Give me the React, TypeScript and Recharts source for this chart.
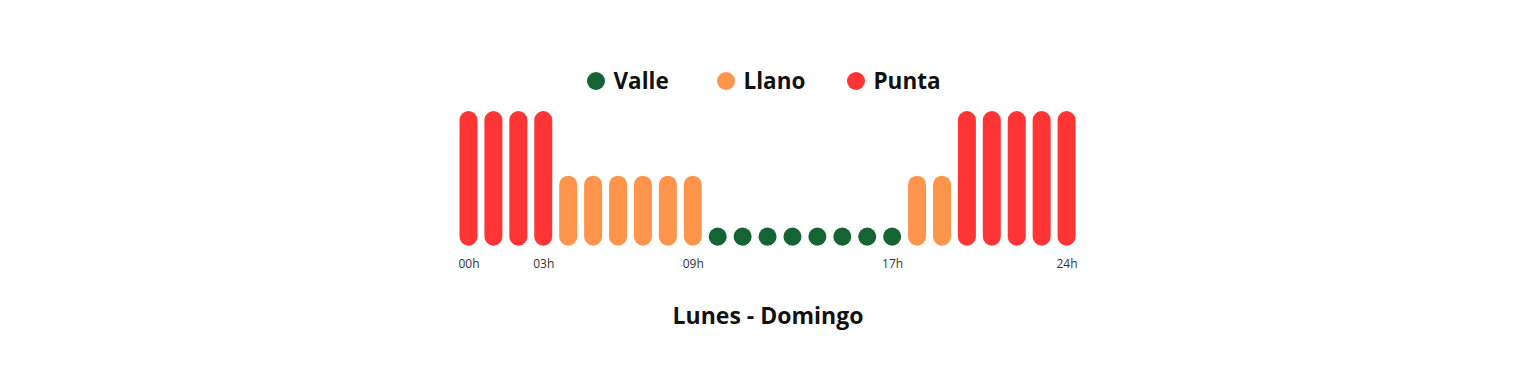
import React from 'react';
import { BarChart, Bar, XAxis, YAxis, Cell, Legend } from 'recharts';

// Tariff period per hour slot (00h..24h)
const hours = [
  '00h', '01h', '02h', '03h', '04h', '05h', '06h', '07h', '08h', '09h',
  '10h', '11h', '12h', '13h', '14h', '15h', '16h', '17h', '18h', '19h',
  '20h', '21h', '22h', '23h', '24h',
];
const periods = [
  'Punta', 'Punta', 'Punta', 'Punta',
  'Llano', 'Llano', 'Llano', 'Llano', 'Llano', 'Llano',
  'Valle', 'Valle', 'Valle', 'Valle', 'Valle', 'Valle', 'Valle', 'Valle',
  'Llano', 'Llano',
  'Punta', 'Punta', 'Punta', 'Punta', 'Punta',
];
const shownTicks = ['00h', '03h', '09h', '17h', '24h'];

const legendNames = ['Valle', 'Llano', 'Punta'];
const levelByPeriod: Record<string, number> = { Valle: 13.5, Llano: 52, Punta: 100 };
const colorByPeriod: Record<string, string> = {
  Valle: '#146434',
  Llano: '#FF954C',
  Punta: '#FF3434',
};

const data = hours.map((h, i) => ({
  hour: h,
  period: periods[i],
  level: levelByPeriod[periods[i]],
}));

const FONT = '"Open Sans", sans-serif';

const LegendContent = () => (
  <div
    style={{
      display: 'flex',
      justifyContent: 'center',
      alignItems: 'center',
      fontFamily: FONT,
      fontWeight: 700,
      fontSize: 22.5,
      color: '#111',
      paddingRight: 8,
    }}
  >
    {legendNames.map((name, i) => (
      <div
        key={name}
        style={{
          display: 'flex',
          alignItems: 'center',
          width: i < legendNames.length - 1 ? 130 : undefined,
        }}
      >
        <span
          style={{
            width: 18,
            height: 18,
            borderRadius: 9,
            background: colorByPeriod[name],
            marginRight: 8,
            display: 'inline-block',
          }}
        />
        <span style={{ lineHeight: '30px' }}>{name}</span>
      </div>
    ))}
  </div>
);

export default function App() {
  return (
    <div style={{ position: 'absolute', left: 0, top: 0, width: 1536, height: 384, background: '#fff' }}>
      <BarChart
        width={1536}
        height={384}
        data={data}
        barCategoryGap={0}
        margin={{ top: 81, right: 456.5, left: 456.5, bottom: 108.3 }}
      >
        <XAxis
          dataKey="hour"
          interval={0}
          axisLine={false}
          tickLine={false}
          height={30}
          tickMargin={8}
          tickFormatter={(v: string) => (shownTicks.includes(v) ? v : '')}
          tick={{ fill: '#333', fontSize: 12, fontFamily: FONT }}
          label={{
            value: 'Lunes - Domingo',
            position: 'bottom',
            offset: 32,
            fill: '#111',
            fontSize: 23,
            fontWeight: 700,
            fontFamily: FONT,
          }}
        />
        <YAxis hide domain={[0, 100]} />
        <Legend
          verticalAlign="top"
          content={<LegendContent />}
          wrapperStyle={{ top: 66, left: 0, width: 1536 }}
        />
        <Bar dataKey="level" barSize={18} radius={9} isAnimationActive={false}>
          {data.map((d) => (
            <Cell key={d.hour} fill={colorByPeriod[d.period]} />
          ))}
        </Bar>
      </BarChart>
    </div>
  );
}
